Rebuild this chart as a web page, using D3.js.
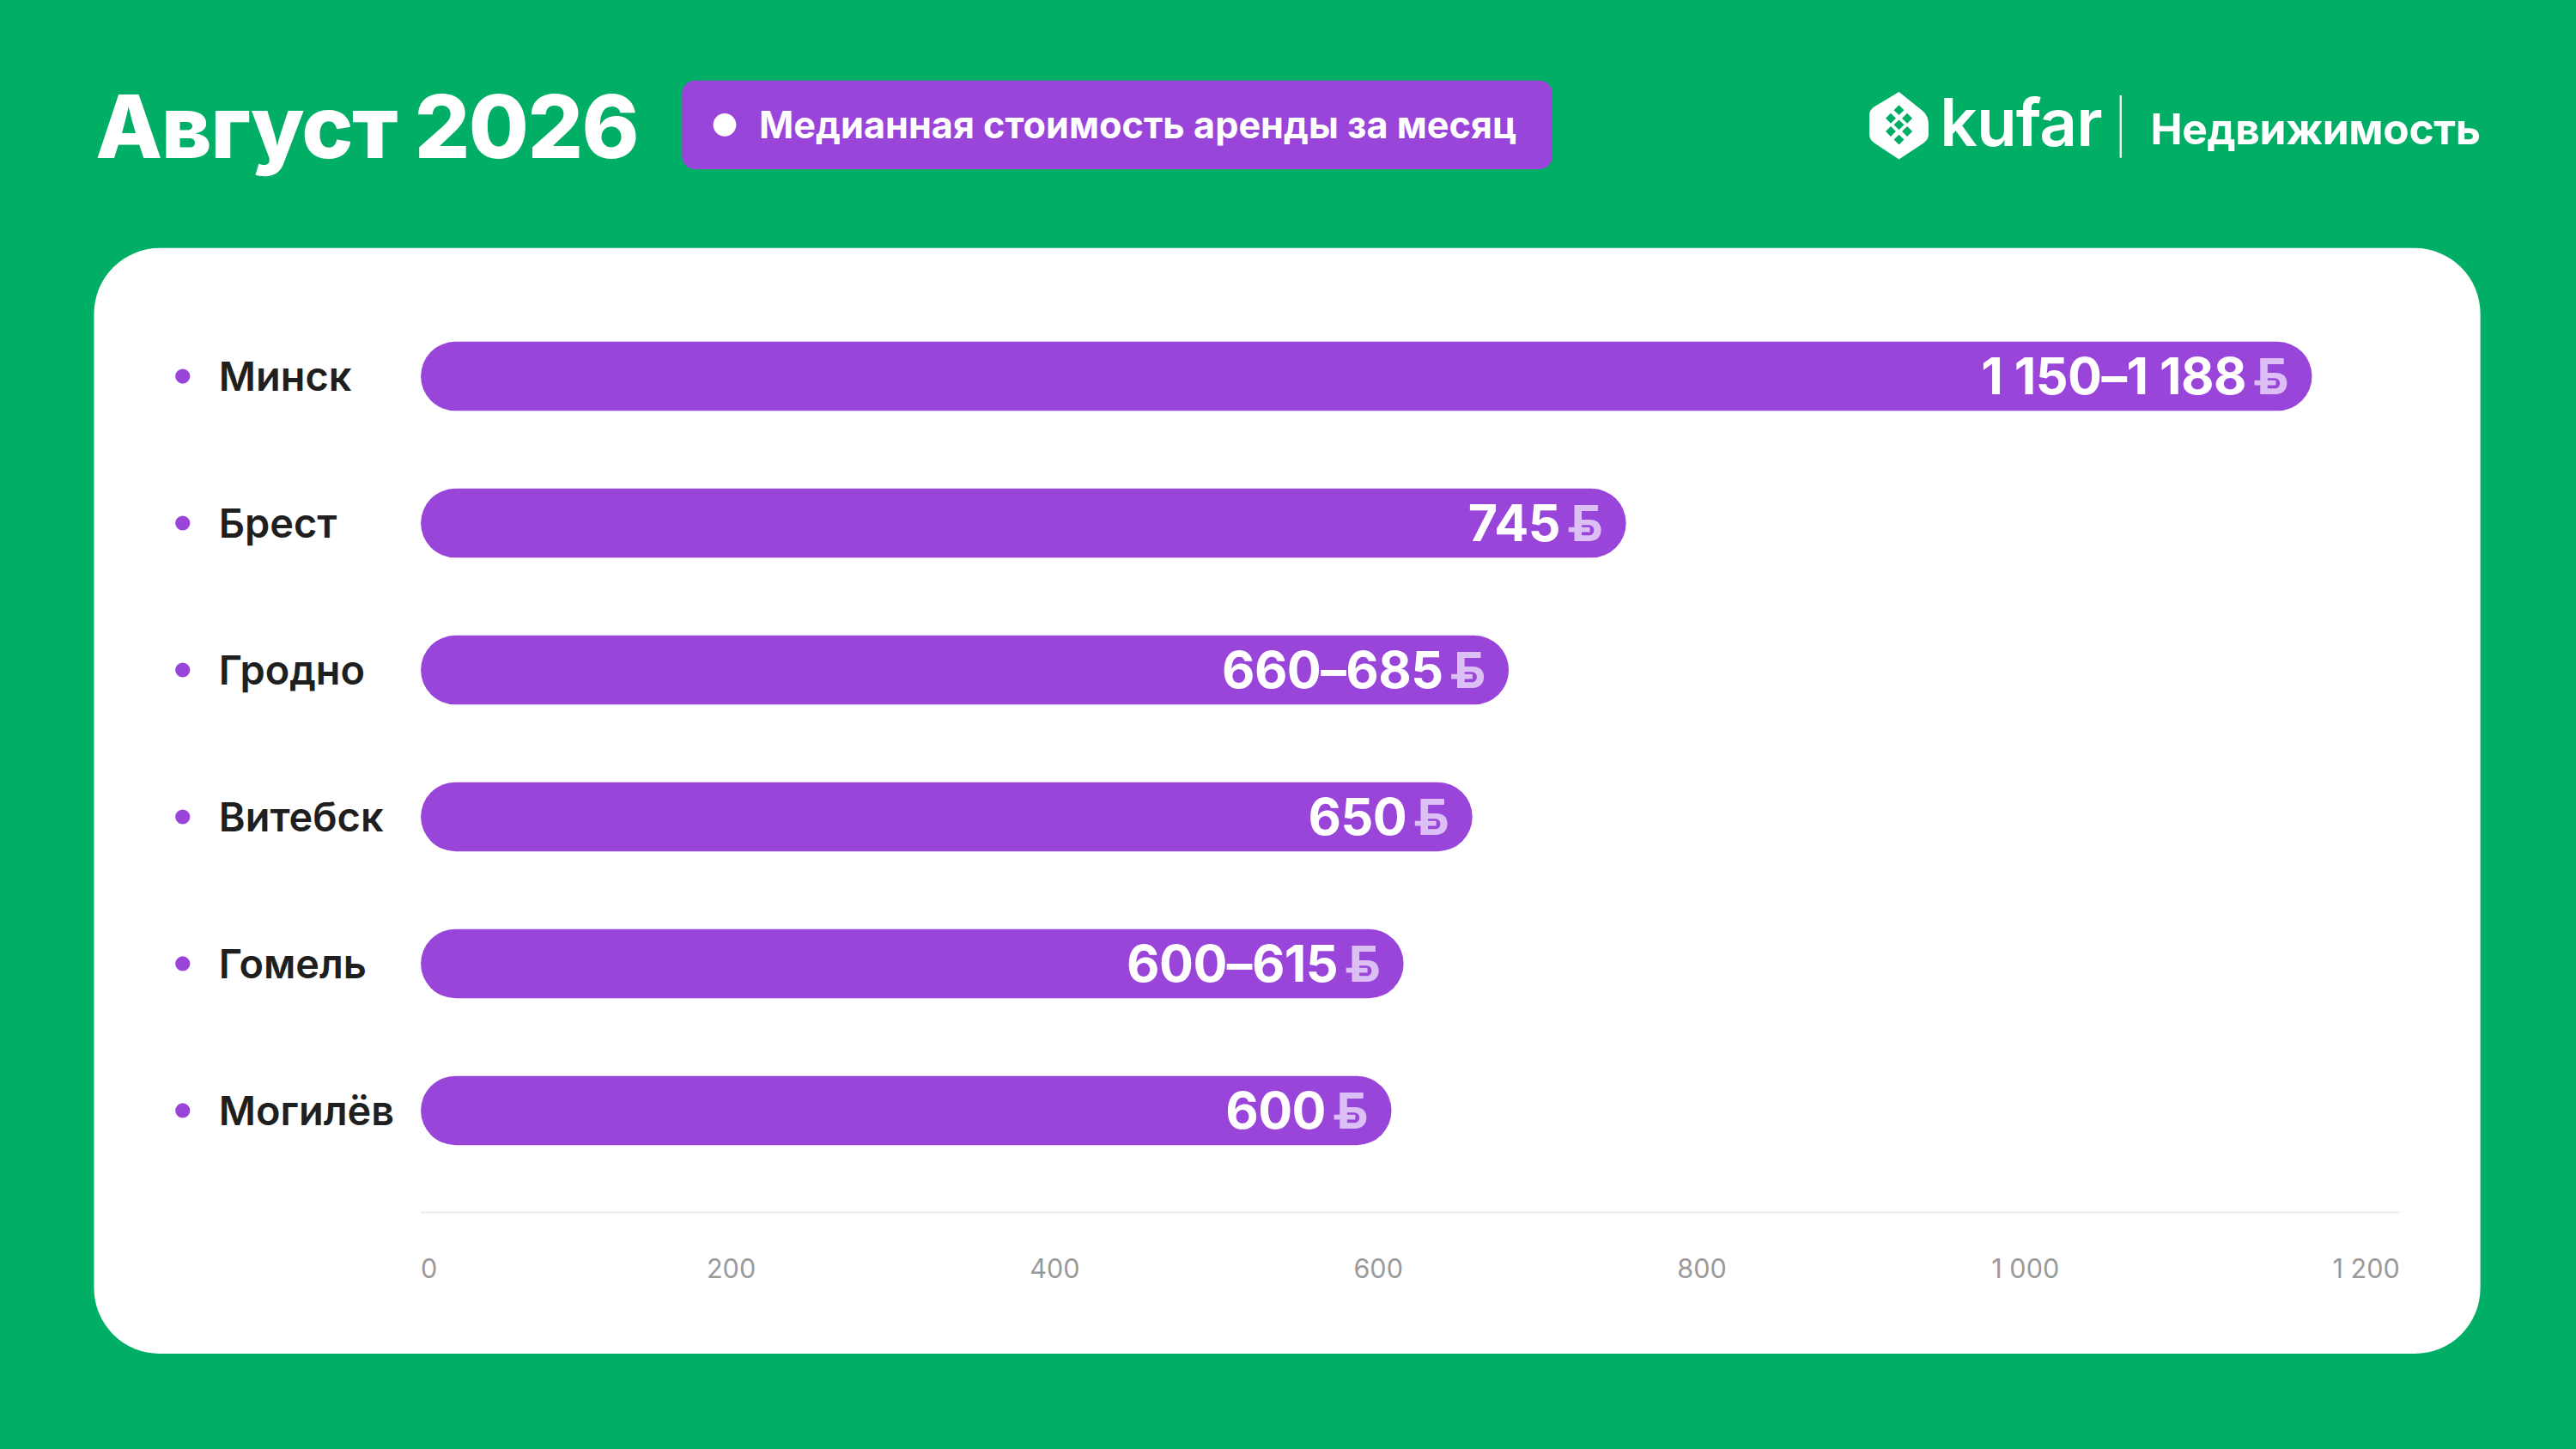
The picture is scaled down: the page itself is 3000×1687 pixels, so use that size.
<!DOCTYPE html>
<html lang="ru">
<head>
<meta charset="UTF-8">
<script src="https://cdnjs.cloudflare.com/ajax/libs/d3/7.8.5/d3.min.js"></script>
<style>
  html, body { margin: 0; padding: 0; background: #00ae66; }
  svg { display: block; font-family: Inter, 'Noto Sans', sans-serif; }
</style>
</head>
<body>
<svg id="chart" width="3000" height="1687" viewBox="0 0 1568 882"></svg>
<script>
const cities = ["Минск", "Брест", "Гродно", "Витебск", "Гомель", "Могилёв"];
const lowValues = [1150, 745, 660, 650, 600, 600];
const highValues = [1188, 745, 685, 650, 615, 600];
const valueLabels = ["1 150–1 188", "745", "660–685", "650", "600–615", "600"];
const tickValues = [0, 200, 400, 600, 800, 1000, 1200];
const tickLabels = ["0", "200", "400", "600", "800", "1 000", "1 200"];

const purple = "#9945d9";
const svg = d3.select("#chart");

svg.append("rect").attr("width", 1568).attr("height", 882).attr("fill", "#00ae66");

// header
svg.append("text").attr("x", 58).attr("y", 96)
  .attr("font-size", 53).attr("font-weight", 800).attr("fill", "#fff")
  .attr("letter-spacing", -0.8).text("Август 2026");

svg.append("rect").attr("x", 415).attr("y", 49).attr("width", 530).attr("height", 54)
  .attr("rx", 8).attr("fill", purple);
svg.append("circle").attr("cx", 441).attr("cy", 76).attr("r", 7).attr("fill", "#fff");
svg.append("text").attr("x", 462).attr("y", 84)
  .attr("font-size", 22.6).attr("font-weight", 700).attr("fill", "#fff")
  .text("Медианная стоимость аренды за месяц");

// logo
const logo = svg.append("g").attr("transform", "translate(1156,76)");
logo.append("path")
  .attr("d", "M0,-20 L15,-8 Q18,-5 18,0 L18,6 Q18,9 15,11 L0,21 L-15,11 Q-18,9 -18,6 L-18,-6 Q-18,-9 -15,-11 Z")
  .attr("fill", "#fff");
[[0,-9],[-5,-4],[5,-4],[0,0],[-5,4],[5,4],[0,9]].forEach(([x, y]) => {
  logo.append("rect").attr("x", x - 2.2).attr("y", y - 2.2).attr("width", 4.4).attr("height", 4.4)
    .attr("transform", `rotate(45,${x},${y})`).attr("fill", "#00ae66");
});
svg.append("text").attr("x", 1181).attr("y", 89)
  .attr("font-size", 40).attr("font-weight", 600).attr("fill", "#fff")
  .attr("letter-spacing", -0.5).text("kufar");
svg.append("line").attr("x1", 1291).attr("x2", 1291).attr("y1", 58).attr("y2", 96)
  .attr("stroke", "#fff").attr("stroke-width", 1.2);
svg.append("text").attr("x", 1510).attr("y", 88).attr("text-anchor", "end")
  .attr("font-size", 26).attr("font-weight", 700).attr("fill", "#fff")
  .attr("letter-spacing", -0.2).text("Недвижимость");

// card
svg.append("rect").attr("x", 57).attr("y", 151).attr("width", 1453).attr("height", 673)
  .attr("rx", 40).attr("fill", "#fff");

// scales
const x = d3.scaleLinear().domain([0, 1200]).range([256, 1438]);
const y = d3.scaleBand().domain(cities).range([208, 697]).paddingInner(0.53).paddingOuter(0);

// grid baseline and ticks
svg.append("line").attr("x1", 256).attr("x2", 1461).attr("y1", 738).attr("y2", 738)
  .attr("stroke", "#ececec").attr("stroke-width", 1);
svg.selectAll(".tick").data(tickValues).join("text")
  .attr("x", (d, i) => i === 0 ? 256 : i === tickValues.length - 1 ? 1461 : x(d) - 8)
  .attr("y", 778)
  .attr("text-anchor", (d, i) => i === 0 ? "start" : i === tickValues.length - 1 ? "end" : "middle")
  .attr("font-size", 16).attr("fill", "#9a9a9a")
  .text((d, i) => tickLabels[i]);

const data = cities.map((c, i) => ({ city: c, mid: (lowValues[i] + highValues[i]) / 2, label: valueLabels[i] }));

const rows = svg.selectAll(".row").data(data).join("g")
  .attr("transform", d => `translate(0,${y(d.city)})`);
const bh = y.bandwidth();

rows.append("rect").attr("x", x(0)).attr("y", 0)
  .attr("width", d => x(d.mid) - x(0)).attr("height", bh)
  .attr("rx", bh / 2).attr("fill", purple);

rows.append("circle").attr("cx", 111).attr("cy", bh / 2).attr("r", 4.5).attr("fill", purple);
rows.append("text").attr("x", 133).attr("y", bh / 2 + 9)
  .attr("font-size", 24.5).attr("font-weight", 600).attr("fill", "#1f1f1f")
  .text(d => d.city);

// ruble sign
rows.append("text").attr("x", d => x(d.mid) - 14).attr("y", bh / 2 + 11)
  .attr("text-anchor", "end").attr("font-size", 30).attr("font-weight", 700)
  .attr("fill", "#dcbff4").text("Б");
rows.append("line")
  .attr("x1", d => x(d.mid) - 35).attr("x2", d => x(d.mid) - 22)
  .attr("y1", bh / 2 + 4).attr("y2", bh / 2 + 4)
  .attr("stroke", "#dcbff4").attr("stroke-width", 3);

rows.append("text").attr("x", d => x(d.mid) - 40).attr("y", bh / 2 + 11)
  .attr("text-anchor", "end").attr("font-size", 31).attr("font-weight", 700)
  .attr("fill", "#fff").attr("letter-spacing", -0.3).text(d => d.label);
</script>
</body>
</html>
